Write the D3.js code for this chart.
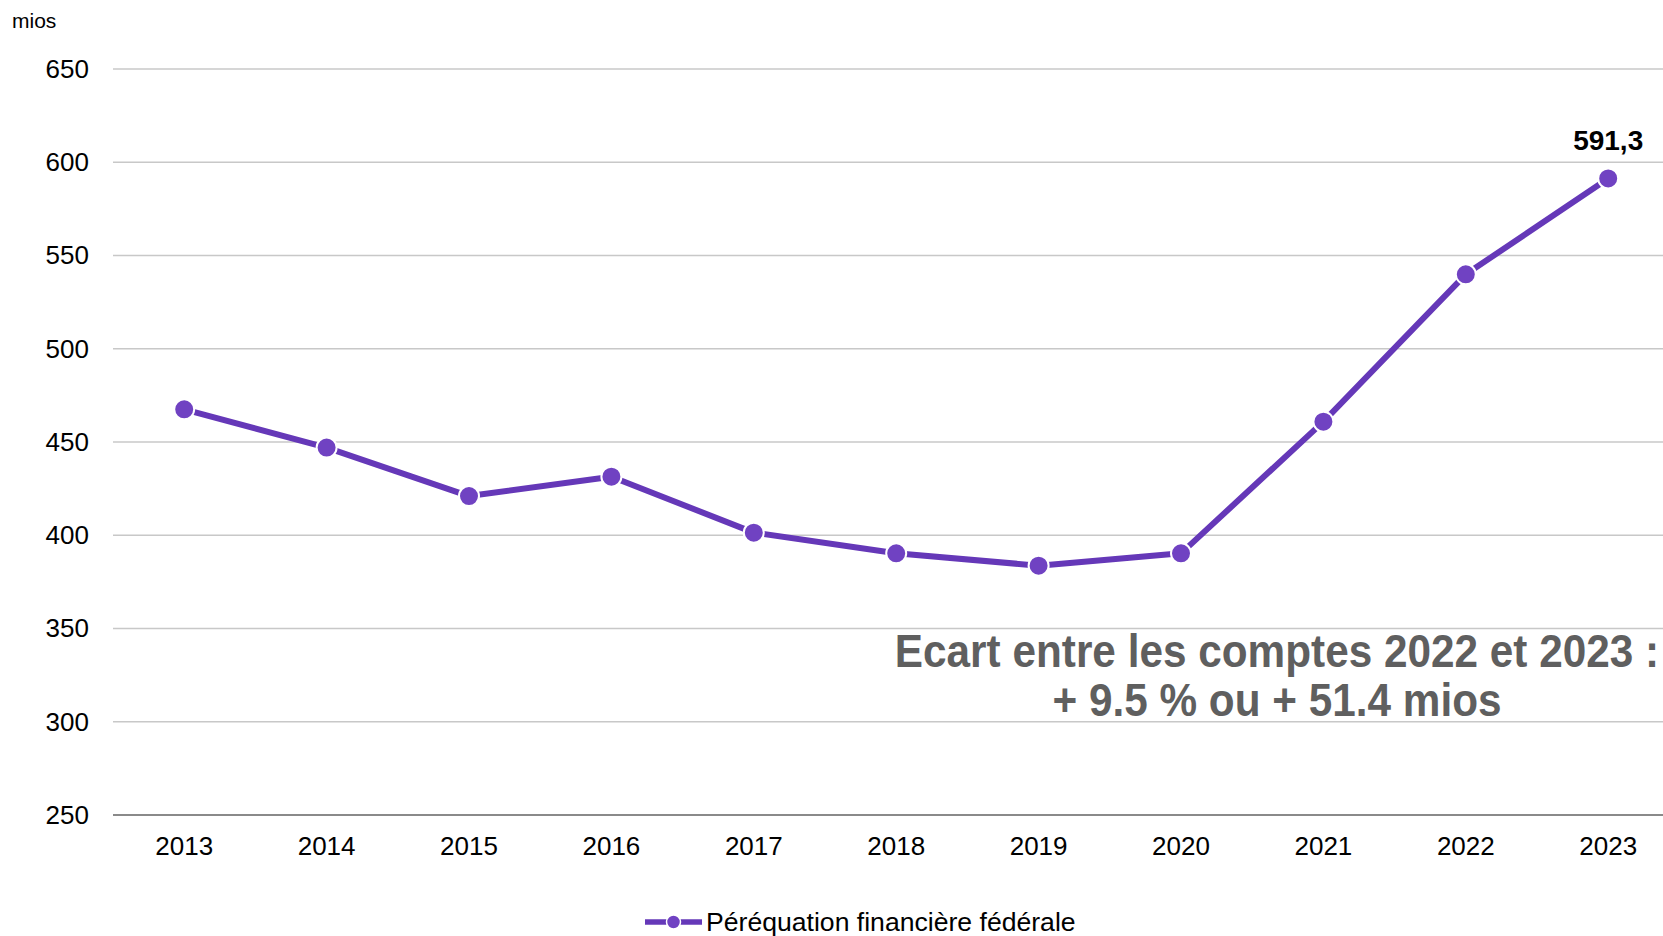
<!DOCTYPE html>
<html>
<head>
<meta charset="utf-8">
<script src="https://cdn.jsdelivr.net/npm/d3@7"></script>
<style>
  body { margin: 0; background: #fff; }
  svg { display: block; font-family: "Liberation Sans", Arial, sans-serif; }
</style>
</head>
<body>
<script>
  // data
  var years = ["2013", "2014", "2015", "2016", "2017", "2018", "2019", "2020", "2021", "2022", "2023"];
  var values = [467.5, 447.0, 421.0, 431.4, 401.4, 390.3, 383.7, 390.3, 460.9, 539.9, 591.3];
  var yTicks = [250, 300, 350, 400, 450, 500, 550, 600, 650];
  var seriesName = "Péréquation financière fédérale";
  var unitLabel = "mios";
  var lastLabel = "591,3";
  var noteLines = ["Ecart entre les comptes 2022 et 2023 :", "+ 9.5 % ou + 51.4 mios"];

  var width = 1663, height = 936;
  var lineColor = "#6538b8", dotColor = "#7042c2";

  var svg = d3.select("body").append("svg")
    .attr("width", width)
    .attr("height", height);

  /***** Scales *****/
  var x = d3.scaleBand().domain(years).range([113, 113 + 11 * 142.4]).padding(0);
  var y = d3.scaleLinear().domain([250, 650]).range([815, 69]);
  var cx = function(d) { return x(d) + x.bandwidth() / 2; };

  // gridlines
  svg.append("g").selectAll("line")
    .data(yTicks)
    .join("line")
    .attr("x1", 113)
    .attr("x2", width)
    .attr("y1", function(d) { return y(d); })
    .attr("y2", function(d) { return y(d); })
    .attr("stroke", function(d) { return d === 250 ? "#8a8a8a" : "#c8c8c8"; })
    .attr("stroke-width", function(d) { return d === 250 ? 2 : 1.5; });

  // y axis labels
  var yAxis = d3.axisLeft(y).tickValues(yTicks).tickSize(0).tickPadding(24);
  svg.append("g")
    .attr("transform", "translate(113,0)")
    .call(yAxis)
    .call(function(g) { g.select(".domain").remove(); })
    .selectAll("text")
    .attr("font-size", 26)
    .attr("font-family", "Liberation Sans, Arial, sans-serif")
    .attr("fill", "#000");

  // x axis labels
  var xAxis = d3.axisBottom(x).tickSize(0).tickPadding(22);
  svg.append("g")
    .attr("transform", "translate(0,815)")
    .call(xAxis)
    .call(function(g) { g.select(".domain").remove(); })
    .selectAll("text")
    .attr("font-size", 26)
    .attr("font-family", "Liberation Sans, Arial, sans-serif")
    .attr("fill", "#000");

  svg.append("text")
    .attr("x", 12)
    .attr("y", 28)
    .attr("font-size", 21)
    .text(unitLabel);

  /***** Line and points *****/
  var data = years.map(function(yr, i) { return { year: yr, value: values[i] }; });

  var line = d3.line()
    .x(function(d) { return cx(d.year); })
    .y(function(d) { return y(d.value); });

  svg.append("path")
    .datum(data)
    .attr("fill", "none")
    .attr("stroke", lineColor)
    .attr("stroke-width", 6)
    .attr("stroke-linejoin", "round")
    .attr("d", line);

  svg.append("g").selectAll("circle")
    .data(data)
    .join("circle")
    .attr("cx", function(d) { return cx(d.year); })
    .attr("cy", function(d) { return y(d.value); })
    .attr("r", 10)
    .attr("fill", dotColor)
    .attr("stroke", "#fff")
    .attr("stroke-width", 2);

  // label on last point
  var last = data[data.length - 1];
  svg.append("text")
    .attr("x", cx(last.year))
    .attr("y", y(last.value) - 28)
    .attr("text-anchor", "middle")
    .attr("font-size", 28)
    .attr("font-weight", "bold")
    .text(lastLabel);

  // annotation (glyphs a bit taller and narrower than plain bold)
  svg.append("g")
    .attr("transform", "translate(1277,0) scale(0.92,1)")
    .selectAll("text")
    .data(noteLines)
    .join("text")
    .attr("x", 0)
    .attr("y", function(d, i) { return 667 + i * 49; })
    .attr("text-anchor", "middle")
    .attr("font-size", 46)
    .attr("font-weight", "bold")
    .attr("fill", "#5f5f5f")
    .text(function(d) { return d; });

  /***** Legend *****/
  var legend = svg.append("g").attr("transform", "translate(645,922)");
  legend.append("line")
    .attr("x1", 0).attr("x2", 57)
    .attr("y1", 0).attr("y2", 0)
    .attr("stroke", lineColor)
    .attr("stroke-width", 5.5);
  legend.append("circle")
    .attr("cx", 28.5).attr("cy", 0)
    .attr("r", 7)
    .attr("fill", dotColor)
    .attr("stroke", "#fff")
    .attr("stroke-width", 1.5);
  legend.append("text")
    .attr("x", 61)
    .attr("y", 9)
    .attr("font-size", 26.6)
    .text(seriesName);
</script>
</body>
</html>
